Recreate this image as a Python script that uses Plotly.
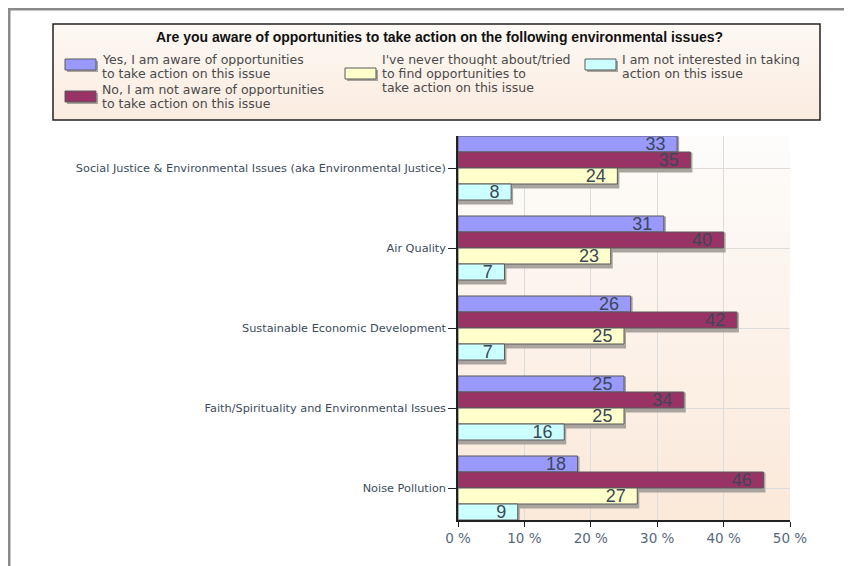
import plotly.graph_objects as go

# --- data ---
categories = [
    "Social Justice & Environmental Issues (aka Environmental Justice)",
    "Air Quality",
    "Sustainable Economic Development",
    "Faith/Spirituality and Environmental Issues",
    "Noise Pollution",
]
yes_aware = [33, 31, 26, 25, 18]
not_aware = [35, 40, 42, 34, 46]
never_thought = [24, 23, 25, 25, 27]
not_interested = [8, 7, 7, 16, 9]

series_names = [
    ["Yes, I am aware of opportunities", "to take action on this issue"],
    ["No, I am not aware of opportunities", "to take action on this issue"],
    ["I've never thought about/tried", "to find opportunities to", "take action on this issue"],
    ["I am not interested in taking", "action on this issue"],
]
series_values = [yes_aware, not_aware, never_thought, not_interested]
x_ticks = [0, 10, 20, 30, 40, 50]

# --- styles ---
COLORS = ["#9999FF", "#993366", "#FFFFCC", "#CCFFFF"]
SHADOW = "#aaa49f"
LABEL_COLOR = "#3b4856"
TICK_COLOR = "#56697c"
GRID_COLOR = "#dcdcdc"
OFF = 8  # page body margin
W, H = 852 - OFF, 566 - OFF
PL, PR, PT, PB = 458, 790, 136, 520  # plot area, in screenshot pixels
BAR_W = 0.2


def px(x):
    return (x - PL) / (PR - PL)


def py(y):
    return (PB - y) / (PB - PT)


fig = go.Figure()

# soft drop shadows behind the bars
for i, vals in enumerate(series_values):
    fig.add_trace(go.Bar(
        y=categories, x=vals, orientation="h",
        offset=-0.4 + BAR_W * i + 0.03, width=BAR_W,
        marker=dict(color=SHADOW, line=dict(color=SHADOW, width=4)),
        hoverinfo="skip", showlegend=False,
    ))

for i, (lines, vals, color) in enumerate(zip(series_names, series_values, COLORS)):
    fig.add_trace(go.Bar(
        y=categories, x=vals, orientation="h", name=" ".join(lines),
        offset=-0.4 + BAR_W * i, width=BAR_W,
        marker=dict(color=color, line=dict(color="#5a5a5a", width=1)),
        text=[str(v) + "\u00a0\u2009" for v in vals], textposition="inside", textangle=0,
        insidetextanchor="end", constraintext="none",
        textfont=dict(family="Liberation Sans", size=18, color=LABEL_COLOR),
        showlegend=False, cliponaxis=False,
    ))

shapes = []


def gradient(x0, x1, y0, y1, c_top, c_bot, n=24):
    for i in range(n):
        t = i / (n - 1)
        c = tuple(int(round(a + (b - a) * t)) for a, b in zip(c_top, c_bot))
        ya = y0 + (y1 - y0) * i / n
        yb = y0 + (y1 - y0) * (i + 1) / n
        shapes.append(dict(
            type="rect", xref="paper", yref="paper",
            x0=px(x0), x1=px(x1), y0=py(ya), y1=py(yb),
            fillcolor="rgb(%d,%d,%d)" % c, line=dict(width=0), layer="below",
        ))


# plot area background
gradient(PL, PR, PT, PB, (253, 252, 250), (251, 233, 218))
# legend box background + border
gradient(53, 820, 24, 120, (253, 248, 244), (251, 236, 224), n=12)
shapes.append(dict(type="rect", xref="paper", yref="paper",
                   x0=px(53), x1=px(820), y0=py(24), y1=py(120),
                   line=dict(color="#222222", width=1.5)))
# outer frame
shapes.append(dict(type="line", xref="paper", yref="paper",
                   x0=px(OFF + 1), x1=px(860), y0=py(OFF + 1), y1=py(OFF + 1),
                   line=dict(color="#8a8a8a", width=3)))
shapes.append(dict(type="line", xref="paper", yref="paper",
                   x0=px(OFF + 1), x1=px(OFF + 1), y0=py(OFF), y1=py(570),
                   line=dict(color="#8a8a8a", width=3)))

annotations = [dict(
    text="<b>Are you aware of opportunities to take action on the following environmental issues?</b>",
    xref="paper", yref="paper", x=px(439), y=py(37), xanchor="center", yanchor="middle",
    showarrow=False,
    font=dict(family="Liberation Sans Narrow, Liberation Sans", size=14, color="#111111"),
)]

# manual legend: swatch (x0, y0), text x, first line centre y
legend_pos = [(65, 59, 101, 59), (65, 91, 101, 89), (345, 68, 381, 59), (585, 59, 621, 59)]
for (sx, sy, tx, ty), lines, color in zip(legend_pos, series_names, COLORS):
    shapes.append(dict(type="rect", xref="paper", yref="paper",
                       x0=px(sx + 2), x1=px(sx + 33), y0=py(sy + 2), y1=py(sy + 13),
                       fillcolor=SHADOW, line=dict(width=0)))
    shapes.append(dict(type="rect", xref="paper", yref="paper",
                       x0=px(sx), x1=px(sx + 31), y0=py(sy), y1=py(sy + 11),
                       fillcolor=color, line=dict(color="#5a5a5a", width=1)))
    for i, line in enumerate(lines):
        annotations.append(dict(
            text=line, xref="paper", yref="paper", x=px(tx), y=py(ty + 14 * i),
            xanchor="left", yanchor="middle", showarrow=False,
            height=14, borderpad=0,
            font=dict(family="DejaVu Sans", size=12.5, color="#4a4a4a"),
        ))

fig.update_layout(
    width=W, height=H,
    margin=dict(l=PL - OFF, r=W - (PR - OFF), t=PT - OFF, b=H - (PB - OFF)),
    paper_bgcolor="white", plot_bgcolor="rgba(0,0,0,0)",
    barmode="overlay",
    shapes=shapes, annotations=annotations,
    showlegend=False,
)
fig.update_xaxes(
    range=[0, 50], tickvals=x_ticks, ticktext=["%d %%" % v for v in x_ticks],
    showgrid=True, gridcolor=GRID_COLOR, gridwidth=1,
    showline=True, linecolor="#222222", linewidth=1.5,
    ticks="outside", ticklen=5, tickcolor="#222222",
    tickfont=dict(family="DejaVu Sans", size=13.5, color=TICK_COLOR),
    zeroline=False,
)
fig.update_yaxes(
    range=[4.4, -0.4], showgrid=True, gridcolor=GRID_COLOR, gridwidth=1,
    showline=True, linecolor="#222222", linewidth=1.5,
    ticks="outside", ticklen=8, tickcolor="#222222",
    tickfont=dict(family="DejaVu Sans", size=11.3, color="#3c4c5c"),
)

fig.write_html("out.html")
